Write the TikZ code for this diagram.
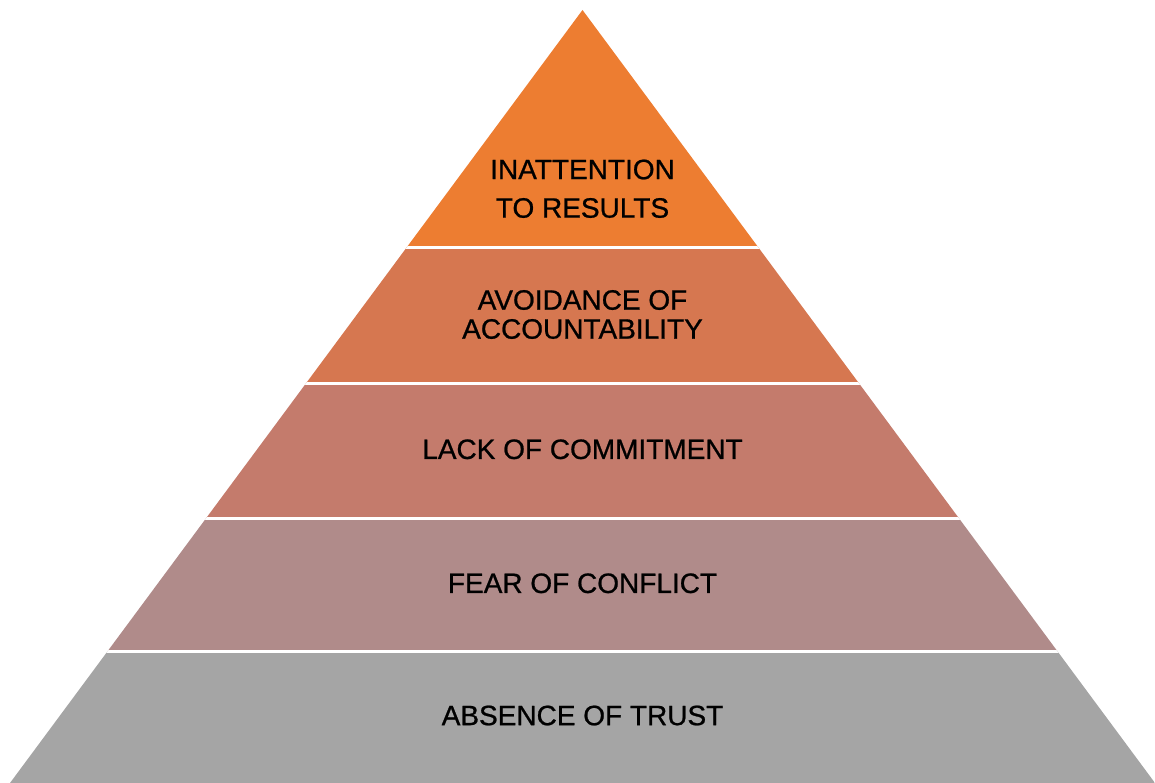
\documentclass[tikz,border=0pt]{standalone}
\usepackage{fontspec}
\setmainfont{Liberation Sans}
\newfontfamily\pyramidfont[FakeBold=0.8]{Liberation Sans}
\usepackage{xcolor}

\definecolor{resultsorange}{RGB}{237,125,49}
\definecolor{accountorange}{RGB}{214,119,80}
\definecolor{commitrose}{RGB}{196,123,108}
\definecolor{conflictmauve}{RGB}{176,139,138}
\definecolor{trustgrey}{RGB}{165,165,165}

\tikzset{
  level/.style={font=\pyramidfont\fontsize{28}{29}\selectfont, text=black, align=center, inner sep=0pt},
  gap/.style={draw=white, line width=3pt}
}

\begin{document}
\begin{tikzpicture}[x=1pt, y=-1pt]
            \useasboundingbox (0,0) rectangle (1155,783);
            \coordinate (top) at (582.5,10);
            \coordinate (bl) at (10,783);
            \coordinate (br) at (1155,783);
            \begin{scope}
                \clip (top) -- (bl) -- (br) -- cycle;
                \fill[resultsorange] (0,0) rectangle (1155,247.5);
                \fill[accountorange] (0,247.5) rectangle (1155,383);
                \fill[commitrose] (0,383) rectangle (1155,518);
                \fill[conflictmauve] (0,518) rectangle (1155,651);
                \fill[trustgrey] (0,651) rectangle (1155,783);
                \foreach \y in {247.5,383,518,651}
                    \draw[gap] (0,\y) -- (1155,\y);
            \end{scope}
            \node[level, font=\pyramidfont\fontsize{28}{38.5}\selectfont] (results) at (582.5,188.75) {INATTENTION\\TO RESULTS};
            \node[level] (account) at (582.5,314.5) {AVOIDANCE OF\\ACCOUNTABILITY};
            \node[level] (commit) at (582.5,449.3) {LACK OF COMMITMENT};
            \node[level] (conflict) at (582.5,583.3) {FEAR OF CONFLICT};
            \node[level] (trust) at (582.5,715.5) {ABSENCE OF TRUST};
        \end{tikzpicture}
\end{document}
